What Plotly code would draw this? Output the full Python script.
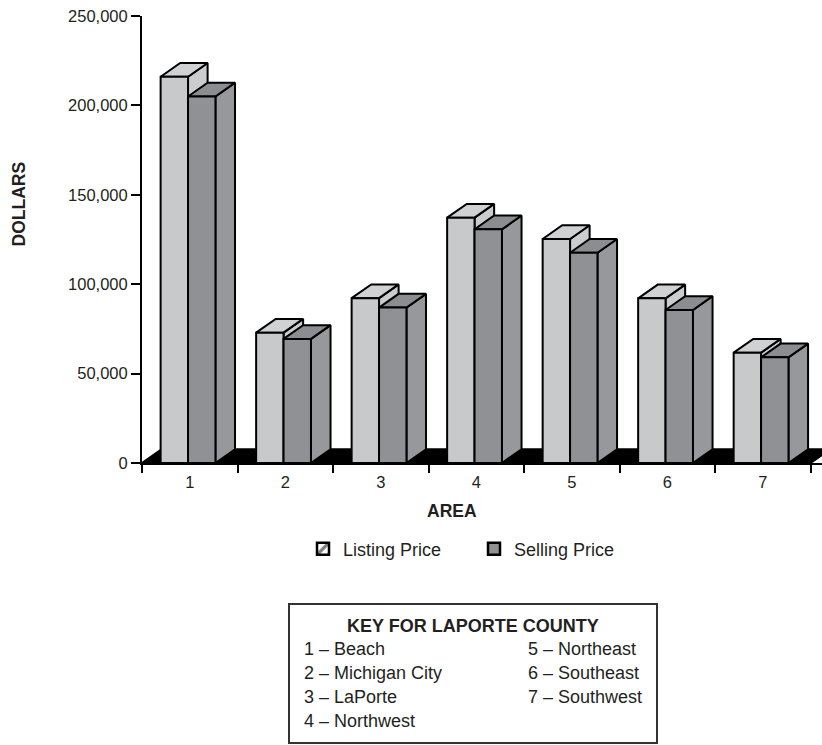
import plotly.graph_objects as go

# Average home prices by area, LaPorte County
areas = [1, 2, 3, 4, 5, 6, 7]
area_labels = ["1", "2", "3", "4", "5", "6", "7"]
area_names = ["Beach", "Michigan City", "LaPorte", "Northwest",
              "Northeast", "Southeast", "Southwest"]
listing_price = [216000, 72900, 92200, 137200, 125300, 92100, 61700]
selling_price = [205000, 69400, 86900, 130700, 117600, 85600, 59100]
y_ticks = [0, 50000, 100000, 150000, 200000, 250000]

# Styling for the pseudo-3D columns
FONT = "Liberation Sans, Arial, Helvetica, sans-serif"
INK = "#231f20"
BAR_W = 0.287          # width of a column face in category units
DEPTH_X = 0.205        # receding offset, category units
DEPTH_Y = 7700         # receding offset, dollars
LISTING = dict(front="#c8c9cb", top="#d0d1d3", side="#cbccce")
SELLING = dict(front="#909195", top="#8c8d91", side="#97989c")

W, H = 822, 745
M_L, M_R, M_T, M_B = 142, 0, 16, 282
X_RANGE = [0.5, 7.62]
PLOT_W = W - M_L - M_R
PLOT_H = H - M_T - M_B


def px_x(px):
    return (px - M_L) / PLOT_W


def px_y(py):
    return (H - M_B - py) / PLOT_H


fig = go.Figure()


def polygon(pts, color):
    xs = [p[0] for p in pts] + [pts[0][0]]
    ys = [p[1] for p in pts] + [pts[0][1]]
    fig.add_trace(go.Scatter(
        x=xs, y=ys, mode="lines", fill="toself", fillcolor=color,
        line=dict(color="black", width=2), showlegend=False,
        hoverinfo="skip"))


def column(x0, value, colors):
    x1 = x0 + BAR_W
    side = [(x1, 0), (x1 + DEPTH_X, DEPTH_Y),
            (x1 + DEPTH_X, value + DEPTH_Y), (x1, value)]
    top = [(x0, value), (x1, value),
           (x1 + DEPTH_X, value + DEPTH_Y), (x0 + DEPTH_X, value + DEPTH_Y)]
    front = [(x0, 0), (x1, 0), (x1, value), (x0, value)]
    polygon(side, colors["side"])
    polygon(top, colors["top"])
    polygon(front, colors["front"])


# Black floor slab along the base
floor = [(0.5, 0), (7.5, 0), (7.5 + DEPTH_X, DEPTH_Y), (0.5 + DEPTH_X, DEPTH_Y)]
polygon(floor, "black")

for a, lp, sp in zip(areas, listing_price, selling_price):
    column(a - 0.305, lp, LISTING)
    column(a - 0.305 + BAR_W, sp, SELLING)

# Legend entries
fig.add_trace(go.Bar(
    x=[None], y=[None], name="Listing Price",
    marker=dict(color="white", line=dict(color="black", width=2.5),
                pattern=dict(shape="/", fgcolor="black", bgcolor="white",
                             size=14, solidity=0.4))))
fig.add_trace(go.Bar(
    x=[None], y=[None], name="Selling Price",
    marker=dict(color=SELLING["front"], line=dict(color="black", width=2.5))))

annotations = [
    dict(text="<b>DOLLARS</b>", x=px_x(18.5), y=px_y(204), textangle=-90,
         font=dict(size=17.5)),
    dict(text="<b>AREA</b>", x=px_x(451.7), y=px_y(511),
         font=dict(size=17.5)),
    dict(text="<b>KEY FOR LAPORTE COUNTY</b>", x=px_x(473), y=px_y(626),
         font=dict(size=18)),
]
for i, name in enumerate(area_names):
    col = 0 if i < 4 else 1
    row = i if i < 4 else i - 4
    annotations.append(dict(
        text=f"{areas[i]} \u2013 {name}",
        x=px_x(301.7 if col == 0 else 525.7), xanchor="left",
        y=px_y(649.3 + 24 * row), font=dict(size=18)))

for a in annotations:
    a.setdefault("xanchor", "center")
    a.update(xref="paper", yref="paper", yanchor="middle", showarrow=False)

fig.update_layout(
    width=W, height=H,
    margin=dict(l=M_L, r=M_R, t=M_T, b=M_B, pad=0),
    paper_bgcolor="white", plot_bgcolor="white",
    font=dict(family=FONT, color=INK, size=16.5),
    showlegend=True,
    legend=dict(orientation="h", x=px_x(303), y=px_y(549),
                xanchor="left", yanchor="middle",
                font=dict(size=18), entrywidth=126, entrywidthmode="pixels",
                bgcolor="rgba(0,0,0,0)"),
    annotations=annotations,
    shapes=[dict(type="rect", xref="paper", yref="paper",
                 x0=px_x(289), x1=px_x(657), y0=px_y(743), y1=px_y(604),
                 line=dict(color="#333333", width=2))],
    xaxis=dict(range=X_RANGE, tickmode="array", tickvals=areas,
               ticktext=area_labels, ticks="", showline=True,
               linecolor="black", linewidth=2, showgrid=False,
               zeroline=False, ticklabelstandoff=3,
               minor=dict(ticks="outside", tick0=0.5, dtick=1, ticklen=8,
                          tickwidth=2, tickcolor="black", showgrid=False),
               fixedrange=True),
    yaxis=dict(range=[0, 250000], tickmode="array", tickvals=y_ticks,
               tickformat=",", ticks="outside", ticklen=9, tickwidth=2,
               tickcolor="black", showline=True, linecolor="black",
               linewidth=2, showgrid=False, zeroline=False,
               fixedrange=True),
)

fig.write_html("out.html")
